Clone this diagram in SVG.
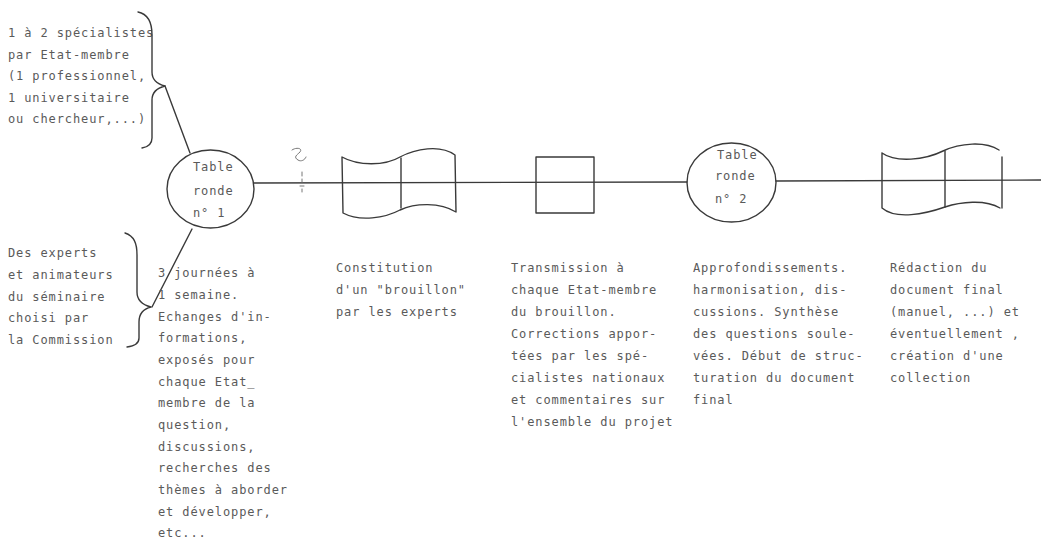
<svg xmlns="http://www.w3.org/2000/svg" width="1041" height="554" viewBox="0 0 1041 554">
  <style>
    .ink { fill: none; stroke: #3a3a3a; stroke-width: 1.4; stroke-linecap: round; stroke-linejoin: round; }
    .faint { fill: none; stroke: #777; stroke-width: 1; stroke-linecap: round; }
    text { font-family: "DejaVu Sans Mono", "Liberation Mono", monospace; font-size: 12px; letter-spacing: 0.9px; fill: #5a5a5a; }
  </style>
  <rect width="1041" height="554" fill="#ffffff"/>

  <!-- participants, grouped by braces on the left -->
  <g id="specialistes">
    <text x="8" y="37">1 à 2 spécialistes</text>
    <text x="8" y="59">par Etat-membre</text>
    <text x="8" y="80">(1 professionnel,</text>
    <text x="8" y="102">1 universitaire</text>
    <text x="8" y="123">ou chercheur,...)</text>
    <path class="ink" d="M138,12 C148,14 152,22 152,35 L152,72 C152,80 157,84 165,86 C157,88 152,92 152,100 L152,138 C152,144 148,147 142,148"/>
  </g>
  <g id="experts">
    <text x="8" y="257">Des experts</text>
    <text x="8" y="279">et animateurs</text>
    <text x="8" y="301">du séminaire</text>
    <text x="8" y="322">choisi par</text>
    <text x="8" y="344">la Commission</text>
    <path class="ink" d="M125,233 C134,236 137,243 137,255 L137,292 C137,300 143,305 151,307 C143,309 139,314 139,322 L139,338 C139,343 135,346 127,347"/>
  </g>

  <!-- process line and links -->
  <g id="connectors">
    <path class="ink" d="M165,86 L190,153"/>
    <path class="ink" d="M192,229 L152,307"/>
    <path class="ink" stroke-width="1.2" d="M254,183 L687,182"/>
    <path class="ink" stroke-width="1.2" d="M776,181 L1041,180"/>
  </g>

  <!-- stray pencil marks beside the first round table -->
  <g id="marks">
    <path class="faint" d="M292,150 C296,147 303,148 300,152 C297,155 293,157 298,160 C301,162 305,160 306,157"/>
    <path class="faint" d="M302,172 L302,176 M302,179 L302,182 M300,186 L304,186 M302,189 L302,192"/>
  </g>

  <g id="table-ronde-1">
    <ellipse class="ink" cx="210.5" cy="189" rx="43.5" ry="39"/>
    <text x="193" y="171">Table</text>
    <text x="193" y="195">ronde</text>
    <text x="193" y="217">n° 1</text>
  </g>

  <g id="brouillon">
    <path class="ink" d="M342,157 C358,166 385,166 400,157 C415,149 440,144 455,155 L456,212 C440,202 415,203 400,210 C385,218 360,222 343,213 Z"/>
    <path class="ink" d="M401,158 L401,208"/>
  </g>

  <g id="transmission">
    <rect class="ink" x="536" y="157" width="58" height="56"/>
  </g>

  <g id="table-ronde-2">
    <ellipse class="ink" cx="731.5" cy="182.5" rx="44.5" ry="39.5"/>
    <text x="717" y="159">Table</text>
    <text x="715" y="180">ronde</text>
    <text x="715" y="203">n° 2</text>
  </g>

  <g id="document-final">
    <path class="ink" d="M882,153 C896,163 925,160 943,151 C960,143 985,141 999,150 M1002,157 L1002,208 M882,153 L882,208 C896,220 925,214 945,207 C960,202 985,199 1000,208"/>
    <path class="ink" d="M945,151 L945,207"/>
  </g>

  <!-- step descriptions under the line -->
  <g id="etape-1">
    <text x="158" y="277">3 journées à</text>
    <text x="158" y="299">1 semaine.</text>
    <text x="158" y="321">Echanges d'in-</text>
    <text x="158" y="342">formations,</text>
    <text x="158" y="364">exposés pour</text>
    <text x="158" y="386">chaque Etat_</text>
    <text x="158" y="407">membre de la</text>
    <text x="158" y="429">question,</text>
    <text x="158" y="451">discussions,</text>
    <text x="158" y="472">recherches des</text>
    <text x="158" y="494">thèmes à aborder</text>
    <text x="158" y="516">et développer,</text>
    <text x="158" y="537">etc...</text>
  </g>
  <g id="etape-2">
    <text x="336" y="272">Constitution</text>
    <text x="336" y="294">d'un "brouillon"</text>
    <text x="336" y="316">par les experts</text>
  </g>
  <g id="etape-3">
    <text x="511" y="272">Transmission à</text>
    <text x="511" y="294">chaque Etat-membre</text>
    <text x="511" y="316">du brouillon.</text>
    <text x="511" y="338">Corrections appor-</text>
    <text x="511" y="360">tées par les spé-</text>
    <text x="511" y="382">cialistes nationaux</text>
    <text x="511" y="404">et commentaires sur</text>
    <text x="511" y="426">l'ensemble du projet</text>
  </g>
  <g id="etape-4">
    <text x="693" y="272">Approfondissements.</text>
    <text x="693" y="294">harmonisation, dis-</text>
    <text x="693" y="316">cussions. Synthèse</text>
    <text x="693" y="338">des questions soule-</text>
    <text x="693" y="360">vées. Début de struc-</text>
    <text x="693" y="382">turation du document</text>
    <text x="693" y="404">final</text>
  </g>
  <g id="etape-5">
    <text x="890" y="272">Rédaction du</text>
    <text x="890" y="294">document final</text>
    <text x="890" y="316">(manuel, ...) et</text>
    <text x="890" y="338">éventuellement ,</text>
    <text x="890" y="360">création d'une</text>
    <text x="890" y="382">collection</text>
  </g>
</svg>
